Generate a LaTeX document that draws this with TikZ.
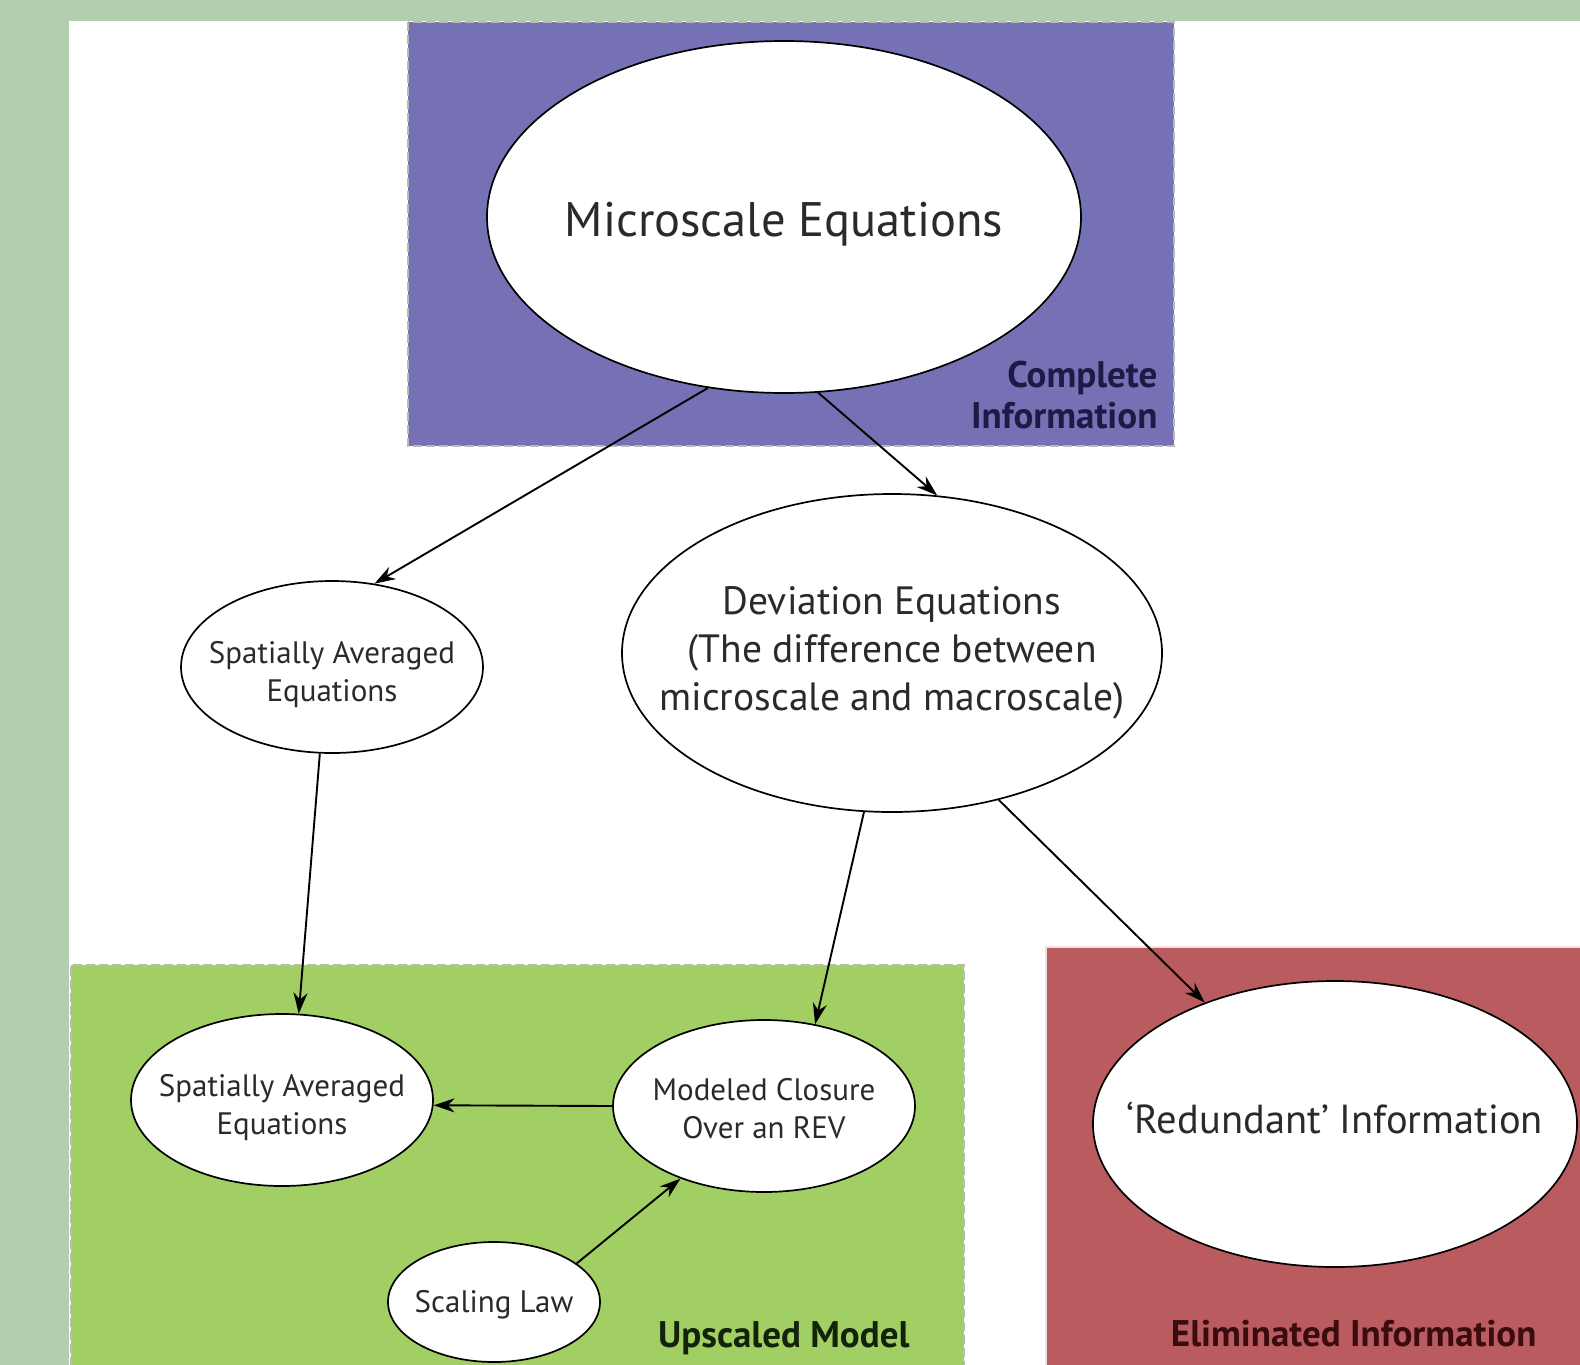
\documentclass[tikz,border=0pt]{standalone}
\usepackage{fontspec}
\setmainfont{PT Sans}
\usetikzlibrary{shapes.geometric,arrows.meta}
\definecolor{sage}{HTML}{B3CEAE}
\definecolor{boxblue}{HTML}{7571B4}
\definecolor{boxgreen}{HTML}{A2CF63}
\definecolor{boxred}{HTML}{B95B5F}
\definecolor{navytext}{HTML}{1C1B45}
\definecolor{redtext}{HTML}{3A0C10}
\definecolor{greentext}{HTML}{13220A}
\definecolor{txt}{HTML}{2A2A2A}
\newcommand{\elltext}[2][0pt]{\makebox[0pt]{\raisebox{-#1}[\height][\depth]{\begin{tabular}{@{}c@{}}#2\end{tabular}}}}
\begin{document}
\begin{tikzpicture}[x=1pt,y=-1pt,
  ell/.style={ellipse, draw=black, line width=1.7pt, fill=white, inner sep=0pt, text=txt},
  region/.style={draw=gray!55, dash pattern=on 9pt off 4pt, line width=1.5pt},
  conn/.style={line width=1.9pt, -{Stealth[length=21pt,width=14pt]}},
  big/.style={font=\fontsize{48.5}{58}\selectfont},
  mid/.style={font=\fontsize{39.5}{48}\selectfont},
  small/.style={font=\fontsize{31}{38}\selectfont},
  tag/.style={font=\fontsize{37}{41}\selectfont\bfseries, align=right}]
\useasboundingbox (0,0) rectangle (1580,1365);
\fill[white] (0,0) rectangle (1580,1365);
% sage bands
\fill[sage] (0,0) rectangle (1580,21);
\fill[sage] (0,0) rectangle (69,1365);
% regions
\fill[boxblue] (408,22) rectangle (1174,446);
\draw[region] (408,22) rectangle (1174,446);
\fill[boxgreen] (71,965) rectangle (964,1365);
\draw[region] (71,1366) -- (71,965) -- (964,965) -- (964,1366);
\fill[boxred] (1046,947) rectangle (1580,1365);
\draw[draw=white!80!boxred, line width=1.5pt] (1046,1366) -- (1046,947) -- (1581,947);
% region labels
\node[tag, text=navytext, anchor=north east] (complete) at (1161,358) {Complete\\Information};
\node[tag, text=greentext, anchor=east] (upscaled) at (913,1338) {Upscaled Model};
\node[tag, text=redtext, anchor=east] (eliminated) at (1540,1334) {Eliminated Information};
% ellipses
\node[ell, big, minimum width=594pt, minimum height=352pt] (micro) at (784,217) {\elltext[8pt]{Microscale Equations}};
\node[ell, small, minimum width=302pt, minimum height=172pt] (sat) at (332,667) {\elltext[8pt]{Spatially Averaged\\Equations}};
\node[ell, mid, minimum width=540pt, minimum height=318pt] (dev) at (892,653) {\elltext{Deviation Equations\\(The difference between\\microscale and macroscale)}};
\node[ell, small, minimum width=302pt, minimum height=172pt] (sab) at (282,1100) {\elltext[8pt]{Spatially Averaged\\Equations}};
\node[ell, small, minimum width=302pt, minimum height=172pt] (mod) at (764,1106) {\elltext[6pt]{Modeled Closure\\Over an REV}};
\node[ell, small, minimum width=212pt, minimum height=120pt] (scal) at (494,1302) {\elltext[3pt]{Scaling Law}};
\node[ell, font=\fontsize{40.5}{48}\selectfont, minimum width=484pt, minimum height=286pt] (red) at (1335,1124) {\elltext{‘Redundant’ Information}};
% connectors
\draw[conn] (micro.246) -- (sat.63);
\draw[conn] (micro.281) -- (dev.74);
\draw[conn] (sat.262) -- (sab.79);
\draw[conn] (dev.260.5) -- (mod.58);
\draw[conn] (dev.306) -- (red.137);
\draw[conn] (mod.180) -- (sab.-2);
\draw[conn] (scal.25) -- (mod.221);
\end{tikzpicture}
\end{document}
